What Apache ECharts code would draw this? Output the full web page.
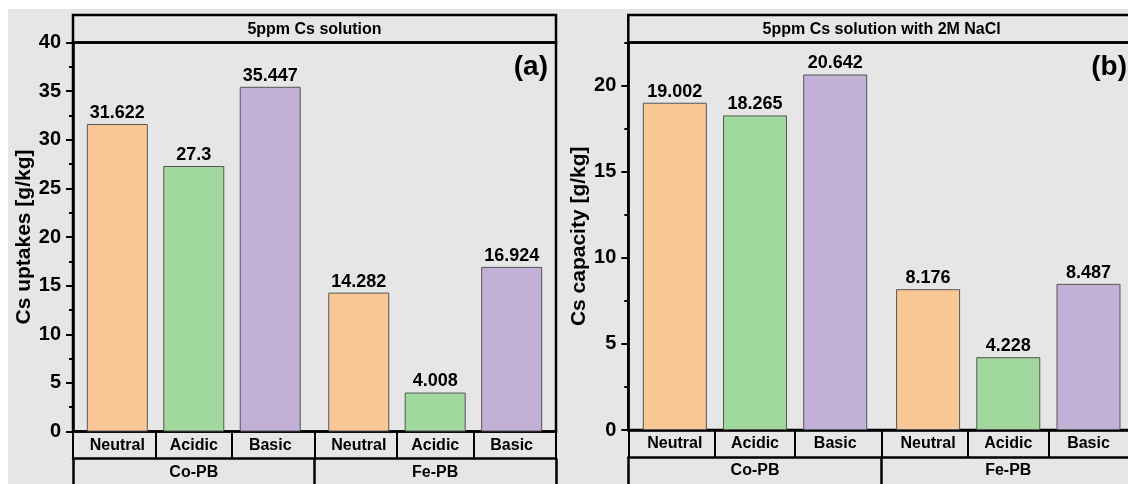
<!DOCTYPE html>
<html>
<head>
<meta charset="utf-8">
<script src="https://cdn.jsdelivr.net/npm/echarts@6/dist/echarts.min.js"></script>
<style>
  html, body { margin: 0; padding: 0; background: #ffffff; }
  #sheet { position: absolute; left: 8px; top: 9px; width: 1120px; height: 475px; background: #e6e6e6; }
  #chart { position: absolute; left: 0; top: 0; width: 1128px; height: 484px; }
</style>
</head>
<body>
<div id="sheet"></div>
<div id="chart"></div>
<script>
// Cs uptake / capacity of Co-PB and Fe-PB prepared under three conditions
const conditions = ['Neutral', 'Acidic', 'Basic'];
const materials = ['Co-PB', 'Fe-PB'];
const uptakeCo = [31.622, 27.3, 35.447];
const uptakeFe = [14.282, 4.008, 16.924];
const capacityCo = [19.002, 18.265, 20.642];
const capacityFe = [8.176, 4.228, 8.487];
const uptakeTicks = [0, 5, 10, 15, 20, 25, 30, 35, 40];
const capacityTicks = [0, 5, 10, 15, 20];
const conditionColors = ['#FAC896', '#A0D89E', '#C3B0D6'];

const FONT = 'Liberation Sans, Arial, sans-serif';

// slot layout on the x value axis: three bars per material, small gap between materials
const GROUP_GAP = 0.158;
const EDGE = 0.58;
const pos = (g, i) => g * (conditions.length + GROUP_GAP) + i;
const slotPositions = [];
const slotNames = [];
materials.forEach((m, g) => conditions.forEach((c, i) => { slotPositions.push(pos(g, i)); slotNames.push(c); }));
const xMin = slotPositions[0] - EDGE;
const xMax = slotPositions[slotPositions.length - 1] + EDGE;
const slotBounds = [xMin];
for (let k = 1; k < slotPositions.length; k++) slotBounds.push((slotPositions[k - 1] + slotPositions[k]) / 2);
slotBounds.push(xMax);
const groupSplit = (pos(0, conditions.length - 1) + pos(1, 0)) / 2;
const groupBounds = [xMin, groupSplit, xMax];
const groupCenters = materials.map((m, g) => pos(g, 1));

function nameAt(list, names) {
  return v => {
    const k = list.findIndex(p => Math.abs(p - v) < 1e-6);
    return k < 0 ? '' : names[k];
  };
}

function minorOf(ticks, max) {
  const step = ticks[1] - ticks[0];
  const out = [];
  for (let k = 0; k < ticks.length; k++) {
    const m = ticks[k] + step / 2;
    if (m <= max + 1e-9) out.push(m);
  }
  return out;
}

const panels = [
  { left: 73, width: 483, top: 42.5, height: 389, max: 40, ticks: uptakeTicks,
    name: 'Cs uptakes [g/kg]', nameGap: 38, title: '5ppm Cs solution', tag: '(a)',
    values: [uptakeCo, uptakeFe], barWidth: 61 },
  { left: 628.3, width: 506.7, top: 42.5, height: 387.5, max: 22.5, ticks: capacityTicks,
    name: 'Cs capacity [g/kg]', nameGap: 37, title: '5ppm Cs solution with 2M NaCl', tag: '(b)',
    values: [capacityCo, capacityFe], barWidth: 64 }
];

const boldText = size => ({ fontFamily: FONT, fontWeight: 'bold', fontSize: size, color: '#000' });

const grid = [], xAxis = [], yAxis = [], series = [], graphic = [];

panels.forEach((p, n) => {
  grid.push({
    left: p.left, top: p.top, width: p.width, height: p.height,
    show: true, borderColor: '#000', borderWidth: 2.5, backgroundColor: 'transparent',
    containLabel: false, outerBoundsMode: 'none'
  });

  // condition row
  xAxis.push({
    gridIndex: n, type: 'value', min: xMin, max: xMax, position: 'bottom',
    axisLine: { show: true, onZero: false, lineStyle: { color: '#000', width: 2.5 } },
    axisTick: { show: true, customValues: slotBounds, length: 27, lineStyle: { color: '#000', width: 2 } },
    axisLabel: { customValues: slotPositions, formatter: nameAt(slotPositions, slotNames), margin: 6, ...boldText(16) },
    splitLine: { show: false }
  });
  // material row
  xAxis.push({
    gridIndex: n, type: 'value', min: xMin, max: xMax, position: 'bottom', offset: 27,
    axisLine: { show: true, onZero: false, lineStyle: { color: '#000', width: 2.5 } },
    axisTick: { show: true, customValues: groupBounds, length: 40, lineStyle: { color: '#000', width: 2.5 } },
    axisLabel: { customValues: groupCenters, formatter: nameAt(groupCenters, materials), margin: 6, ...boldText(16) },
    splitLine: { show: false }
  });

  yAxis.push({
    gridIndex: n, type: 'value', min: 0, max: p.max, position: 'left',
    axisLine: { show: true, onZero: false, lineStyle: { color: '#000', width: 2.5 } },
    axisTick: { show: true, customValues: p.ticks, length: 7, lineStyle: { color: '#000', width: 2 } },
    axisLabel: { customValues: p.ticks, margin: 12, ...boldText(20) },
    splitLine: { show: false },
    name: p.name, nameLocation: 'middle', nameRotate: 90, nameGap: p.nameGap,
    nameTextStyle: boldText(21)
  });
  yAxis.push({
    gridIndex: n, type: 'value', min: 0, max: p.max, position: 'left',
    axisLine: { show: false, onZero: false },
    axisTick: { show: true, customValues: minorOf(p.ticks, p.max), length: 4, lineStyle: { color: '#000', width: 2 } },
    axisLabel: { show: false },
    splitLine: { show: false }
  });

  const data = [];
  materials.forEach((m, g) => conditions.forEach((c, i) => {
    data.push({ value: [pos(g, i), p.values[g][i]], itemStyle: { color: conditionColors[i] } });
  }));
  series.push({
    type: 'bar', xAxisIndex: 2 * n, yAxisIndex: 2 * n, barWidth: p.barWidth,
    data,
    itemStyle: { borderColor: '#555', borderWidth: 1 },
    label: { show: true, position: 'top', distance: 2, formatter: q => String(q.value[1]), ...boldText(18) },
    animation: false
  });

  // title strip above the plot
  graphic.push({
    type: 'rect', shape: { x: p.left, y: 15, width: p.width, height: p.top - 15 },
    style: { fill: 'none', stroke: '#000', lineWidth: 2.5 }, z: 10
  });
  graphic.push({
    type: 'text', x: p.left + p.width / 2, y: (15 + p.top) / 2 + 1,
    style: { text: p.title, font: 'bold 16px ' + FONT, fill: '#000',
      align: 'center', verticalAlign: 'middle', textAlign: 'center', textVerticalAlign: 'middle' }, z: 10
  });
  graphic.push({
    type: 'text', x: p.left + p.width - 8, y: 67,
    style: { text: p.tag, font: 'bold 28px ' + FONT, fill: '#000',
      align: 'right', verticalAlign: 'middle', textAlign: 'right', textVerticalAlign: 'middle' }, z: 10
  });
});

const chart = echarts.init(document.getElementById('chart'), null, { renderer: 'canvas' });
chart.setOption({
  animation: false,
  backgroundColor: 'transparent',
  grid, xAxis, yAxis, series, graphic
});
</script>
</body>
</html>
